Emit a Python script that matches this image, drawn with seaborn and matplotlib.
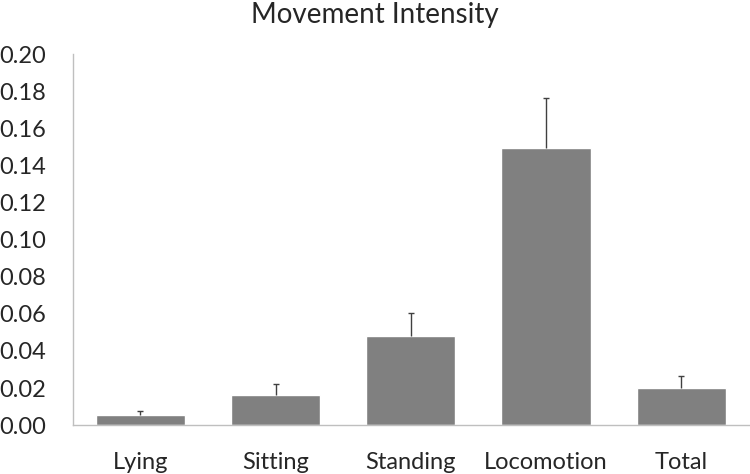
import seaborn as sns
import matplotlib.pyplot as plt
import pandas as pd
import numpy as np

# --- Data ---
categories = ["Lying", "Sitting", "Standing", "Locomotion", "Total"]
means = [0.0054, 0.0163, 0.0480, 0.1492, 0.0198]
errors_up = [0.0020, 0.0058, 0.0122, 0.0269, 0.0068]

df = pd.DataFrame({"Behaviour": categories, "Intensity": means})

# --- Styling ---
sns.set_style("white")
plt.rcParams["font.family"] = ["Lato", "DejaVu Sans"]

axis_grey = "#BFBFBF"

fig = plt.figure(figsize=(7.5, 4.74), dpi=100)
ax = fig.add_axes([0.097, 0.103, 0.9015, 0.783])

sns.barplot(data=df, x="Behaviour", y="Intensity", color="#808080",
            saturation=1, width=0.66, errorbar=None, ax=ax)

# upper-only error bars (hide the cap at the bar top)
_, caps, _ = ax.errorbar(np.arange(len(categories)), means,
                         yerr=[np.zeros(len(means)), errors_up],
                         fmt="none", ecolor="#404040", elinewidth=1,
                         capsize=2, capthick=1)
caps[0].set_visible(False)

ax.set_ylim(0, 0.2)
ax.set_xlim(-0.5, len(categories) - 0.5)
ax.set_yticks(np.arange(0, 0.201, 0.02))
ax.set_yticklabels([f"{v:.2f}" for v in np.arange(0, 0.201, 0.02)])

# category labels centered, tick marks at category boundaries
ax.set_xticks(np.arange(len(categories)))
ax.set_xticklabels(categories)
ax.set_xticks(np.arange(-0.5, len(categories)), minor=True)
ax.tick_params(axis="x", which="major", length=0, pad=19, labelsize=17)
ax.tick_params(axis="x", which="minor", length=8, color=axis_grey, width=1)
ax.tick_params(axis="y", length=8, color=axis_grey, width=1, labelsize=17, pad=11)

for side in ["top", "right"]:
    ax.spines[side].set_visible(False)
for side in ["left", "bottom"]:
    ax.spines[side].set_color(axis_grey)
    ax.spines[side].set_linewidth(1)

ax.set_xlabel("")
ax.set_ylabel("")
fig.suptitle("Movement Intensity", fontsize=20, y=0.995)

plt.savefig("out.png", dpi=100)
